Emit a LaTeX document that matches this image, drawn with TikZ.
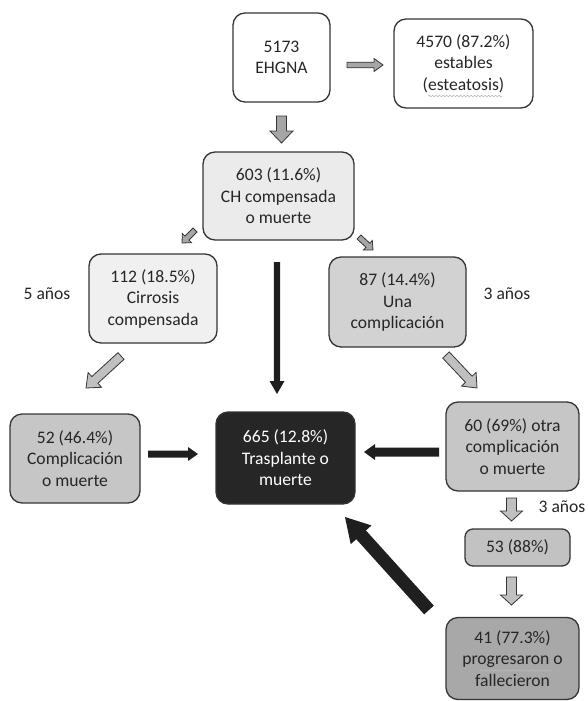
\documentclass[tikz,border=0pt]{standalone}
\usepackage{fontspec}
\setmainfont{Carlito}
\usetikzlibrary{calc,decorations.pathmorphing}
\definecolor{bordc}{HTML}{353535}
\definecolor{txtc}{HTML}{262626}
\definecolor{fillC}{HTML}{EBEBEB}
\definecolor{fillD}{HTML}{F0F0F0}
\definecolor{fillE}{HTML}{D2D2D2}
\definecolor{fillF}{HTML}{C6C6C6}
\definecolor{fillG}{HTML}{262626}
\definecolor{fillI}{HTML}{C2C2C2}
\definecolor{fillJ}{HTML}{A8A8A8}
\definecolor{arrgray}{HTML}{A6A6A6}
\definecolor{arrlight}{HTML}{C0C0C0}
\definecolor{squig}{HTML}{BBBBBB}
\newcommand{\blockarr}[6]{%
  \coordinate (bh) at ($(#3)!#6!(#2)$);
  \path[#1] ($(#2)!#4!90:(#3)$) -- ($(bh)!#4!90:(#3)$) -- ($(bh)!#5!90:(#3)$) -- (#3)
    -- ($(bh)!#5!-90:(#3)$) -- ($(bh)!#4!-90:(#3)$) -- ($(#2)!#4!-90:(#3)$) -- cycle;
}
\tikzset{
  box/.style={draw=bordc, line width=1.3pt, rounded corners=12pt, align=center,
    font=\fontsize{17.6}{21.5}\selectfont, text=txtc, inner sep=0pt},
  lbl/.style={font=\fontsize{17.6}{21.5}\selectfont, text=txtc, inner sep=0pt},
  grayarr/.style={fill=arrgray, draw=bordc, line width=0.8pt, line join=miter},
  lightarr/.style={fill=arrlight, draw=bordc, line width=0.8pt, line join=miter},
  blackarr/.style={fill=black!88, draw=none},
  wavy/.style={draw=squig, line width=0.6pt, decorate,
    decoration={snake, amplitude=0.7pt, segment length=3.5pt}}
}
\begin{document}
\begin{tikzpicture}[x=1pt, y=-1pt]
\useasboundingbox (0,0) rectangle (587,701);
% boxes
\node[box, fill=white, minimum width=97pt, minimum height=89pt] (A) at (281.5,57.5) {5173\\EHGNA};
\node[box, fill=white, minimum width=139pt, minimum height=89pt] (B) at (463.5,63.5) {4570 (87.2\%)\\estables\\(esteatosis)};
\node[box, fill=fillC, minimum width=151pt, minimum height=88pt] (C) at (278.5,196) {603 (11.6\%)\\CH compensada\\o muerte};
\node[box, fill=fillD, minimum width=128pt, minimum height=89pt] (D) at (153,298.5) {112 (18.5\%)\\Cirrosis\\compensada};
\node[box, fill=fillE, minimum width=137pt, minimum height=90pt] (E) at (397.5,302) {87 (14.4\%)\\Una\\complicación};
\node[box, fill=fillF, minimum width=130pt, minimum height=89pt] (F) at (75,458.5) {52 (46.4\%)\\Complicación\\o muerte};
\node[box, fill=fillG, text=white, minimum width=139pt, minimum height=92pt] (G) at (285.5,458) {665 (12.8\%)\\Trasplante o\\muerte};
\node[box, fill=fillF, minimum width=133pt, minimum height=89pt] (H) at (512.5,446.5) {60 (69\%) otra\\complicación\\o muerte};
\node[box, fill=fillI, rounded corners=8pt, minimum width=105pt, minimum height=37pt] (I) at (517.5,547.5) {53 (88\%)};
\node[box, fill=fillJ, minimum width=133pt, minimum height=82pt] (J) at (512.5,658.5) {41 (77.3\%)\\progresaron o\\fallecieron};
% labels
\node[lbl] (t5) at (47,294) {5 años};
\node[lbl] (t3a) at (507,294) {3 años};
\node[lbl] (t3b) at (562,507) {3 años};
% squiggles
\draw[wavy] (428,96) -- (502,96);
\draw[wavy] (480,670.5) -- (551,670.5);
% arrow end points
\coordinate (ab1) at (347,65);  \coordinate (ab2) at (383,65);
\coordinate (ac1) at (281.5,116); \coordinate (ac2) at (281.5,143);
\coordinate (cd1) at (195,230); \coordinate (cd2) at (182,243);
\coordinate (ce1) at (359,237); \coordinate (ce2) at (373,250);
\coordinate (df1) at (121,356); \coordinate (df2) at (86,388);
\coordinate (eh1) at (446,355); \coordinate (eh2) at (477,388);
\coordinate (cg1) at (277,262); \coordinate (cg2) at (277,394);
\coordinate (fg1) at (148,454); \coordinate (fg2) at (198,454);
\coordinate (hg1) at (439,452); \coordinate (hg2) at (364,452);
\coordinate (hi1) at (511.5,498); \coordinate (hi2) at (511.5,521);
\coordinate (ij1) at (511.5,577); \coordinate (ij2) at (511.5,605);
\coordinate (jg1) at (429,610); \coordinate (jg2) at (345,517);
% arrows
\blockarr{grayarr}{ab1}{ab2}{2.8pt}{6.5pt}{9pt}
\blockarr{grayarr}{ac1}{ac2}{5pt}{11.5pt}{12pt}
\blockarr{grayarr}{cd1}{cd2}{2.8pt}{6.5pt}{7pt}
\blockarr{grayarr}{ce1}{ce2}{2.8pt}{6.5pt}{7pt}
\blockarr{lightarr}{df1}{df2}{4.5pt}{10pt}{12pt}
\blockarr{lightarr}{eh1}{eh2}{4.5pt}{10pt}{12pt}
\blockarr{lightarr}{hi1}{hi2}{5pt}{11pt}{10pt}
\blockarr{lightarr}{ij1}{ij2}{5pt}{11pt}{10pt}
\blockarr{blackarr}{cg1}{cg2}{3.2pt}{7.5pt}{13pt}
\blockarr{blackarr}{fg1}{fg2}{3.5pt}{7pt}{10pt}
\blockarr{blackarr}{hg1}{hg2}{4.5pt}{8pt}{11pt}
\blockarr{blackarr}{jg1}{jg2}{6.5pt}{14pt}{24pt}
\end{tikzpicture}
\end{document}
